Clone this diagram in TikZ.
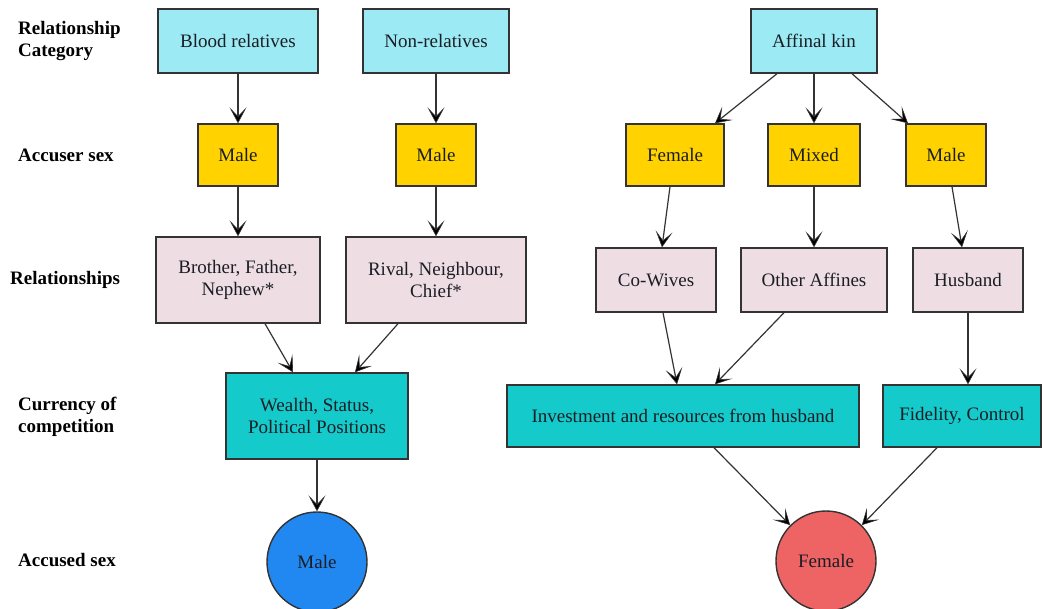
\documentclass[tikz,border=0pt]{standalone}
\usepackage{fontspec}
\setmainfont{Liberation Serif}
\usetikzlibrary{arrows.meta}
\definecolor{cyanlt}{HTML}{9CEAF4}
\definecolor{goldbox}{HTML}{FFD200}
\definecolor{pinkbox}{HTML}{EEDDE2}
\definecolor{tealbox}{HTML}{14CACB}
\definecolor{bluec}{HTML}{2088F0}
\definecolor{redc}{HTML}{EE6363}
\definecolor{edge}{HTML}{333333}
\definecolor{txt}{HTML}{1A1E24}
\tikzset{
  base/.style={draw=edge, line width=1.4pt, inner sep=0pt, align=center, text=txt,
    font=\fontsize{19}{22}\selectfont},
  catbox/.style={base, fill=cyanlt, minimum height=64},
  sexbox/.style={base, fill=goldbox, minimum height=62},
  relbox/.style={base, fill=pinkbox},
  curbox/.style={base, fill=tealbox},
  accc/.style={base, circle, minimum size=100},
  rowlabel/.style={anchor=west, align=left, inner sep=0pt, text=black,
    font=\fontsize{19}{22}\selectfont\bfseries},
  conn/.style={draw=edge, line width=1.2pt,
    -{Stealth[length=16pt,width=17pt,inset=9pt,fill=black,line width=0.6pt]}}
}
\begin{document}
\begin{tikzpicture}[x=1pt,y=-1pt]
\useasboundingbox (0,0) rectangle (1044,609);
\clip (0,0) rectangle (1044,609);
\fill[white] (0,0) rectangle (1044,609);

% row labels
\node[rowlabel] (l1) at (18,41) {Relationship\\Category};
\node[rowlabel] (l2) at (18,155) {Accuser sex};
\node[rowlabel] (l3) at (10,280) {Relationships};
\node[rowlabel] (l4) at (18,417) {Currency of\\competition};
\node[rowlabel] (l5) at (18,560) {Accused sex};

% relationship category
\node[catbox, minimum width=160] (blood) at (238,41) {Blood relatives};
\node[catbox, minimum width=146] (non) at (436,41) {Non-relatives};
\node[catbox, minimum width=126] (aff) at (814,41) {Affinal kin};

% accuser sex
\node[sexbox, minimum width=80] (m1) at (238,155) {Male};
\node[sexbox, minimum width=80] (m2) at (436,155) {Male};
\node[sexbox, minimum width=98] (fem) at (675,155) {Female};
\node[sexbox, minimum width=92] (mix) at (814,155) {Mixed};
\node[sexbox, minimum width=80] (m3) at (946,155) {Male};

% relationships
\node[relbox, minimum width=164, minimum height=86] (bro) at (238,280) {Brother, Father,\\Nephew*};
\node[relbox, minimum width=180, minimum height=86] (riv) at (436,280) {Rival, Neighbour,\\Chief*};
\node[relbox, minimum width=120, minimum height=64] (cow) at (656,280) {Co-Wives};
\node[relbox, minimum width=146, minimum height=64] (oth) at (814,280) {Other Affines};
\node[relbox, minimum width=110, minimum height=64] (hus) at (968,280) {Husband};

% currency
\node[curbox, minimum width=182, minimum height=86] (wea) at (317,416) {Wealth, Status,\\Political Positions};
\node[curbox, minimum width=352, minimum height=62] (inv) at (683,416) {Investment and resources from husband};
\node[curbox, minimum width=158, minimum height=62] (fid) at (962,416) {Fidelity, Control};

% accused sex
\node[accc, fill=bluec] (mc) at (317,562) {Male};
\node[accc, fill=redc] (fc) at (826,561) {Female};

% connectors
\draw[conn] (blood.south) -- (m1.north);
\draw[conn] (non.south) -- (m2.north);
\draw[conn] ([xshift=-37pt]aff.south) -- ([xshift=40pt]fem.north);
\draw[conn] (aff.south) -- (mix.north);
\draw[conn] ([xshift=38pt]aff.south) -- ([xshift=-38pt]m3.north);

\draw[conn] (m1.south) -- (bro.north);
\draw[conn] (m2.south) -- (riv.north);
\draw[conn] ([xshift=-5pt]fem.south) -- ([xshift=6pt]cow.north);
\draw[conn] (mix.south) -- (oth.north);
\draw[conn] ([xshift=6pt]m3.south) -- ([xshift=-6pt]hus.north);

\draw[conn] ([xshift=27pt]bro.south) -- ([xshift=-24pt]wea.north);
\draw[conn] ([xshift=-38pt]riv.south) -- ([xshift=38pt]wea.north);
\draw[conn] ([xshift=7pt]cow.south) -- ([xshift=-6pt]inv.north);
\draw[conn] ([xshift=-30pt]oth.south) -- ([xshift=32pt]inv.north);
\draw[conn] (hus.south) -- (hus.south |- fid.north);

\draw[conn] (wea.south) -- (mc.north);
\draw[conn] ([xshift=31pt]inv.south) -- (fc.north west);
\draw[conn] ([xshift=-25pt]fid.south) -- (fc.north east);
\end{tikzpicture}
\end{document}
